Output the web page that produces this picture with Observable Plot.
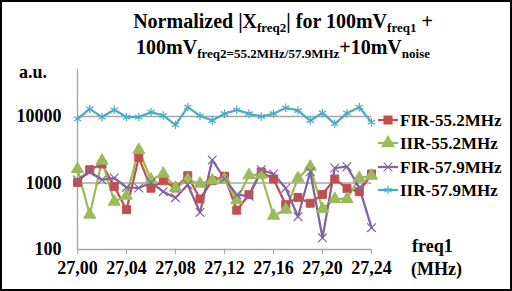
<!DOCTYPE html>
<html><head><meta charset="utf-8">
<script src="https://cdn.jsdelivr.net/npm/d3@7"></script>
<script src="https://cdn.jsdelivr.net/npm/@observablehq/plot@0.6"></script>
<style>
body{margin:0;background:#fff;}
#wrap{position:relative;width:512px;height:291px;overflow:hidden;font-family:"Liberation Serif","Times New Roman",serif;font-weight:bold;color:#000;background:#fff;}
#chart{position:absolute;left:0;top:0;}
#chart text{font-family:"Liberation Serif","Times New Roman",serif !important;font-weight:bold;}
#frame{position:absolute;left:0;top:0;width:512px;height:291px;box-sizing:border-box;border:2px solid #000;pointer-events:none;}
#title{position:absolute;left:0;width:566px;top:8px;text-align:center;font-size:20px;line-height:26px;white-space:nowrap;}
#title sub{font-size:13px;line-height:0;vertical-align:-4px;}
.lbl{position:absolute;font-size:18px;white-space:nowrap;line-height:18px;}
#legend{position:absolute;left:0;top:0;overflow:visible;}
</style>
</head><body>
<div id="wrap">
  <div id="chart"></div>
  <div id="title"><div>Normalized |X<sub>freq2</sub>| for 100mV<sub>freq1</sub> +</div><div>100mV<sub>freq2=55.2MHz/57.9MHz</sub>+10mV<sub>noise</sub></div></div>
  <div class="lbl" style="left:19px;top:63px;">a.u.</div>
  <div class="lbl" style="left:412px;top:237px;">freq1</div>
  <div class="lbl" style="left:411px;top:260px;">(MHz)</div>
  <div id="frame"></div>
</div>
<script>
const freq1 = [27.00,27.01,27.02,27.03,27.04,27.05,27.06,27.07,27.08,27.09,27.10,27.11,27.12,27.13,27.14,27.15,27.16,27.17,27.18,27.19,27.20,27.21,27.22,27.23,27.24];
const fir552 = [1020,1585,1930,890,397,2426,835,1083,840,1288,575,1083,1265,390,667,1463,1150,472,607,497,674,1150,830,740,1366];
const iir552 = [1623,334,2165,523,644,3135,1121,1380,850,1121,976,1094,1133,551,1310,1333,322,397,1181,1758,406,575,575,1189,1288];
const fir579 = [1110,1479,1110,1189,859,841,1010,740,601,943,361,2218,1161,667,633,1585,1366,835,311,1479,150,1681,1758,859,213];
const iir579 = [9200,13000,9800,12600,9800,9800,11600,10350,7500,13800,10200,8700,11000,12600,11000,10000,11000,13500,12300,8700,11300,7770,11200,13800,8200];
const seriesNames = ["FIR-55.2MHz","IIR-55.2MHz","FIR-57.9MHz","IIR-57.9MHz"];
const seriesValues = [fir552, iir552, fir579, iir579];
const colors = ["#C0504D","#9BBB59","#8064A2","#4BACC6"];
const symbols = ["square","triangle","times","asterisk"];
const xTicks = [27.00,27.04,27.08,27.12,27.16,27.20,27.24];
const yTicks = [100,1000,10000];

const data = [];
seriesNames.forEach((s, k) => seriesValues[k].forEach((v, i) => data.push({x: freq1[i], y: v, s})));

const grid = "#a6a6a6";
const serif = "Liberation Serif, Times New Roman, serif";
const fmtX = d => d.toFixed(2).replace(".", ",");

const plot = Plot.plot({
  width: 512, height: 291,
  marginLeft: 77, marginRight: 141, marginTop: 69, marginBottom: 42,
  style: {fontFamily: serif, fontSize: "18px", fontWeight: "bold", background: "transparent"},
  x: {domain: [27.00, 27.24]},
  y: {type: "log", domain: [100, 50900]},
  color: {domain: seriesNames, range: colors},
  symbol: {domain: seriesNames, range: symbols},
  marks: [
    Plot.ruleY([1000, 10000], {stroke: grid, strokeWidth: 1.3}),
    Plot.ruleY([100], {stroke: grid, strokeWidth: 1.3}),
    Plot.frame({anchor: "left", stroke: grid, strokeWidth: 1.3}),
    Plot.axisX({ticks: xTicks, tickFormat: fmtX, tickSize: 5, tickPadding: 7, stroke: grid, fill: "black", fontSize: 18, fontFamily: serif, fontWeight: "bold", label: null}),
    Plot.axisY({ticks: yTicks, tickFormat: d => String(d), tickSize: 0, tickPadding: 16, fill: "black", fontSize: 18, fontFamily: serif, fontWeight: "bold", label: null}),
    Plot.line(data, {x: "x", y: "y", z: "s", stroke: "s", strokeWidth: 2.25}),
    Plot.dot(data.filter(d => d.s === "FIR-55.2MHz" || d.s === "IIR-55.2MHz"), {x: "x", y: "y", symbol: "s", fill: "s", stroke: "s", strokeWidth: 1, r: 4.5}),
    Plot.dot(data.filter(d => d.s === "FIR-57.9MHz" || d.s === "IIR-57.9MHz"), {x: "x", y: "y", symbol: "s", fill: "s", stroke: "s", strokeWidth: 1.2, r: 4})
  ]
});
document.getElementById("chart").appendChild(plot);

// legend
const leg = d3.select("#wrap").append("svg").attr("id", "legend")
  .attr("width", 512).attr("height", 291)
  .style("font-family", serif)
  .style("font-weight", "bold").style("font-size", "17px");
const rowsY = [120, 143, 167, 190];
const d3sym = {square: d3.symbolSquare, triangle: d3.symbolTriangle, times: d3.symbolTimes, asterisk: d3.symbolAsterisk};
seriesNames.forEach((name, k) => {
  const g = leg.append("g").attr("transform", `translate(0,${rowsY[k]})`);
  g.append("line").attr("x1", 378).attr("x2", 398).attr("y1", 0).attr("y2", 0)
    .attr("stroke", colors[k]).attr("stroke-width", 2.25);
  const r = k < 2 ? 4.5 : 4;
  g.append("path").attr("transform", "translate(388,0)")
    .attr("d", d3.symbol(d3sym[symbols[k]], Math.PI * r * r)())
    .attr("fill", colors[k]).attr("stroke", colors[k]).attr("stroke-width", 1.1);
  g.append("text").attr("x", 400).attr("y", 0).attr("dy", "0.35em").text(name);
});
</script>
</body></html>
